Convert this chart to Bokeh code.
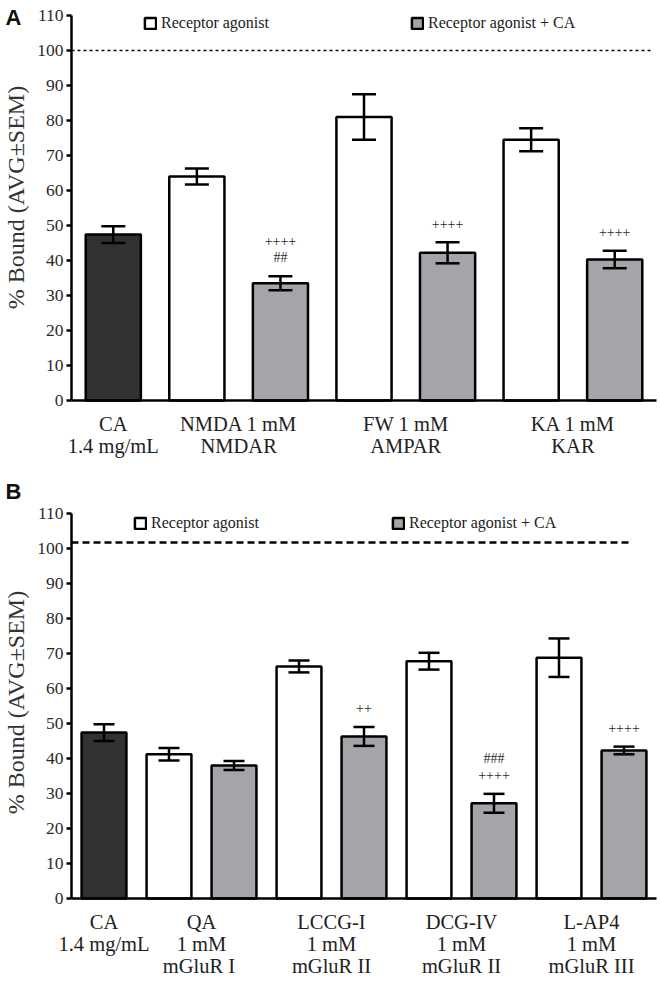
import math
from bokeh.plotting import figure
from bokeh.models import (ColumnDataSource, Whisker, TeeHead, FixedTicker, Label,
                          Legend, LegendItem, Range1d, LinearAxis)
from bokeh.layouts import column
from bokeh.embed import file_html
from bokeh.resources import INLINE
from bokeh.core.properties import value

# ---------------- data: panel A ----------------
a_labels = ["CA\n1.4 mg/mL", "NMDA 1 mM\nNMDAR", "FW 1 mM\nAMPAR", "KA 1 mM\nKAR"]
a_ca_mean = 47.4
a_ca_sem = 2.4
a_agonist_mean = [64.0, 81.0, 74.5]
a_agonist_sem = [2.3, 6.5, 3.3]
a_agonist_ca_mean = [33.5, 42.2, 40.3]
a_agonist_ca_sem = [2.0, 3.0, 2.5]
a_marks = [["##", "++++"], ["++++"], ["++++"]]     # listed bottom -> top
a_control = 100.0

# ---------------- data: panel B ----------------
b_labels = ["CA\n1.4 mg/mL", "QA\n1 mM\nmGluR  I", "LCCG-I\n1 mM\nmGluR II",
            "DCG-IV\n1 mM\nmGluR II", "L-AP4\n1 mM\nmGluR III"]
b_ca_mean = 47.4
b_ca_sem = 2.4
b_agonist_mean = [41.2, 66.3, 67.8, 68.8]
b_agonist_sem = [1.8, 1.7, 2.4, 5.5]
b_agonist_ca_mean = [38.0, 46.3, 27.2, 42.3]
b_agonist_ca_sem = [1.3, 2.7, 2.7, 1.1]
b_marks = [[], ["++"], ["++++", "###"], ["++++"]]
b_control = 101.7

y_ticks = list(range(0, 111, 10))
y_title = "% Bound (AVG\u00b1SEM)"
legend_labels = ["Receptor agonist", "Receptor agonist + CA"]

SERIF = "Liberation Serif"
DARK = "#323232"
GREY = "#a5a4a9"
PX_Y = 3.5          # pixels per y unit
FIG_W = 660
AXIS_X = 71         # y-axis position inside the figure (px)
PLOT_W = 585        # width of the axis region (px)


def make_panel(letter, labels, ca_mean, ca_sem, ag_mean, ag_sem, agca_mean, agca_sem,
               marks, control, height, zero_y, bar_width, cap_px, dash, dash_width,
               dash_end_px, legend_spacing, legend_pos, letter_top, title_y):
    n = len(ag_mean)
    x_max = 2 * n + 0.5
    ux = PLOT_W / (x_max + 0.5)
    x_start = -0.5 - AXIS_X / ux
    x_end = -0.5 + (FIG_W - AXIS_X) / ux
    y_end = zero_y / PX_Y
    y_start = -(height - zero_y) / PX_Y

    p = figure(width=FIG_W, height=height, output_backend="svg", toolbar_location=None,
               x_range=Range1d(x_start, x_end), y_range=Range1d(y_start, y_end),
               x_axis_type=None, y_axis_type=None,
               min_border_left=0, min_border_right=0, min_border_top=0, min_border_bottom=0)
    p.outline_line_color = None
    p.grid.grid_line_color = None

    x_ag = [1 + 2 * i for i in range(n)]
    x_agca = [2 + 2 * i for i in range(n)]

    p.vbar(x=[0], top=[ca_mean], width=bar_width, fill_color=DARK,
           line_color="black", line_width=2.5)
    r_ag = p.vbar(x=x_ag, top=ag_mean, width=bar_width, fill_color="white",
                  line_color="black", line_width=2.5)
    r_agca = p.vbar(x=x_agca, top=agca_mean, width=bar_width, fill_color=GREY,
                    line_color="black", line_width=2.5)

    xs = [0] + x_ag + x_agca
    ms = [ca_mean] + list(ag_mean) + list(agca_mean)
    ss = [ca_sem] + list(ag_sem) + list(agca_sem)
    src = ColumnDataSource(dict(x=xs, lo=[m - s for m, s in zip(ms, ss)],
                                hi=[m + s for m, s in zip(ms, ss)]))
    w = Whisker(base="x", lower="lo", upper="hi", source=src, dimension="height",
                line_width=2.5, line_color="black", level="overlay",
                upper_head=TeeHead(size=cap_px, line_width=2.5, line_color="black"),
                lower_head=TeeHead(size=cap_px, line_width=2.5, line_color="black"))
    p.add_layout(w)

    # significance marks above the agonist + CA bars
    tx, ty, tt = [], [], []
    for i, lines in enumerate(marks):
        top = agca_mean[i] + agca_sem[i]
        for j, t in enumerate(lines):
            tx.append(x_agca[i])
            ty.append(top + 5.3 + 4.8 * j)
            tt.append(t)
    if tt:
        p.text(x=tx, y=ty, text=tt, text_font=value(SERIF), text_font_size="14px",
               text_align="center", text_baseline="middle", text_color="#2a2a2a")

    # control (100 %) reference line
    p.segment(x0=[-0.5], x1=[-0.5 + dash_end_px / ux], y0=[control], y1=[control],
              line_color="black", line_width=dash_width, line_dash=dash)

    # axes fixed on the data origin
    yax = LinearAxis(fixed_location=-0.5, bounds=(0, 110), ticker=FixedTicker(ticks=y_ticks))
    yax.minor_tick_line_color = None
    yax.major_tick_in = 0
    yax.major_tick_out = 5
    yax.major_tick_line_width = 2.5
    yax.axis_line_width = 2.5
    yax.major_label_standoff = 3
    yax.major_label_text_font = SERIF
    yax.major_label_text_font_size = "17.5px"
    yax.major_label_text_color = "#2a2a2a"
    p.add_layout(yax, "left")

    tick_pos = [0] + [1.5 + 2 * i for i in range(n)]
    xax = LinearAxis(fixed_location=0, bounds=(-0.5, x_max), ticker=FixedTicker(ticks=tick_pos))
    xax.major_label_overrides = {t: l for t, l in zip(tick_pos, labels)}
    xax.major_tick_line_color = None
    xax.minor_tick_line_color = None
    xax.axis_line_width = 2.5
    xax.major_label_standoff = 6
    xax.major_label_text_font = SERIF
    xax.major_label_text_font_size = "20.5px"
    xax.major_label_text_line_height = 1.0
    xax.major_label_text_color = "#222222"
    p.add_layout(xax, "below")

    # y-axis title
    p.add_layout(Label(x=x_start + 15 / ux, y=title_y, text=y_title, angle=math.pi / 2,
                       text_font=SERIF, text_font_size="24px", text_color="#333333",
                       text_align="center", text_baseline="middle"))

    legend = Legend(items=[LegendItem(label=legend_labels[0], renderers=[r_ag]),
                           LegendItem(label=legend_labels[1], renderers=[r_agca])],
                    orientation="horizontal", location=legend_pos,
                    spacing=legend_spacing, glyph_width=14, glyph_height=14,
                    label_standoff=4, label_height=14, padding=0, margin=0,
                    border_line_color=None, background_fill_alpha=0,
                    label_text_font=SERIF, label_text_font_size="16px",
                    label_text_color="#222222")
    p.add_layout(legend)

    p.add_layout(Label(x=x_start + 5 / ux, y=y_end - letter_top / PX_Y,
                       text=letter, text_font="Liberation Sans",
                       text_font_style="bold", text_font_size="22px",
                       text_baseline="top", text_align="left", text_color="#111111"))
    return p


pa = make_panel("A", a_labels, a_ca_mean, a_ca_sem, a_agonist_mean, a_agonist_sem,
                a_agonist_ca_mean, a_agonist_ca_sem, a_marks, a_control,
                height=478, zero_y=400, bar_width=0.66, cap_px=24,
                dash="3 3", dash_width=1.6, dash_end_px=581, legend_spacing=141,
                legend_pos=(143, 446), letter_top=4, title_y=58)
pb = make_panel("B", b_labels, b_ca_mean, b_ca_sem, b_agonist_mean, b_agonist_sem,
                b_agonist_ca_mean, b_agonist_ca_sem, b_marks, b_control,
                height=506, zero_y=420, bar_width=0.69, cap_px=21,
                dash="7 4", dash_width=2.5, dash_end_px=561, legend_spacing=132,
                legend_pos=(133, 452), letter_top=0, title_y=56)

layout = column(pa, pb, spacing=0)
open("out.html", "w").write(file_html(layout, INLINE))
